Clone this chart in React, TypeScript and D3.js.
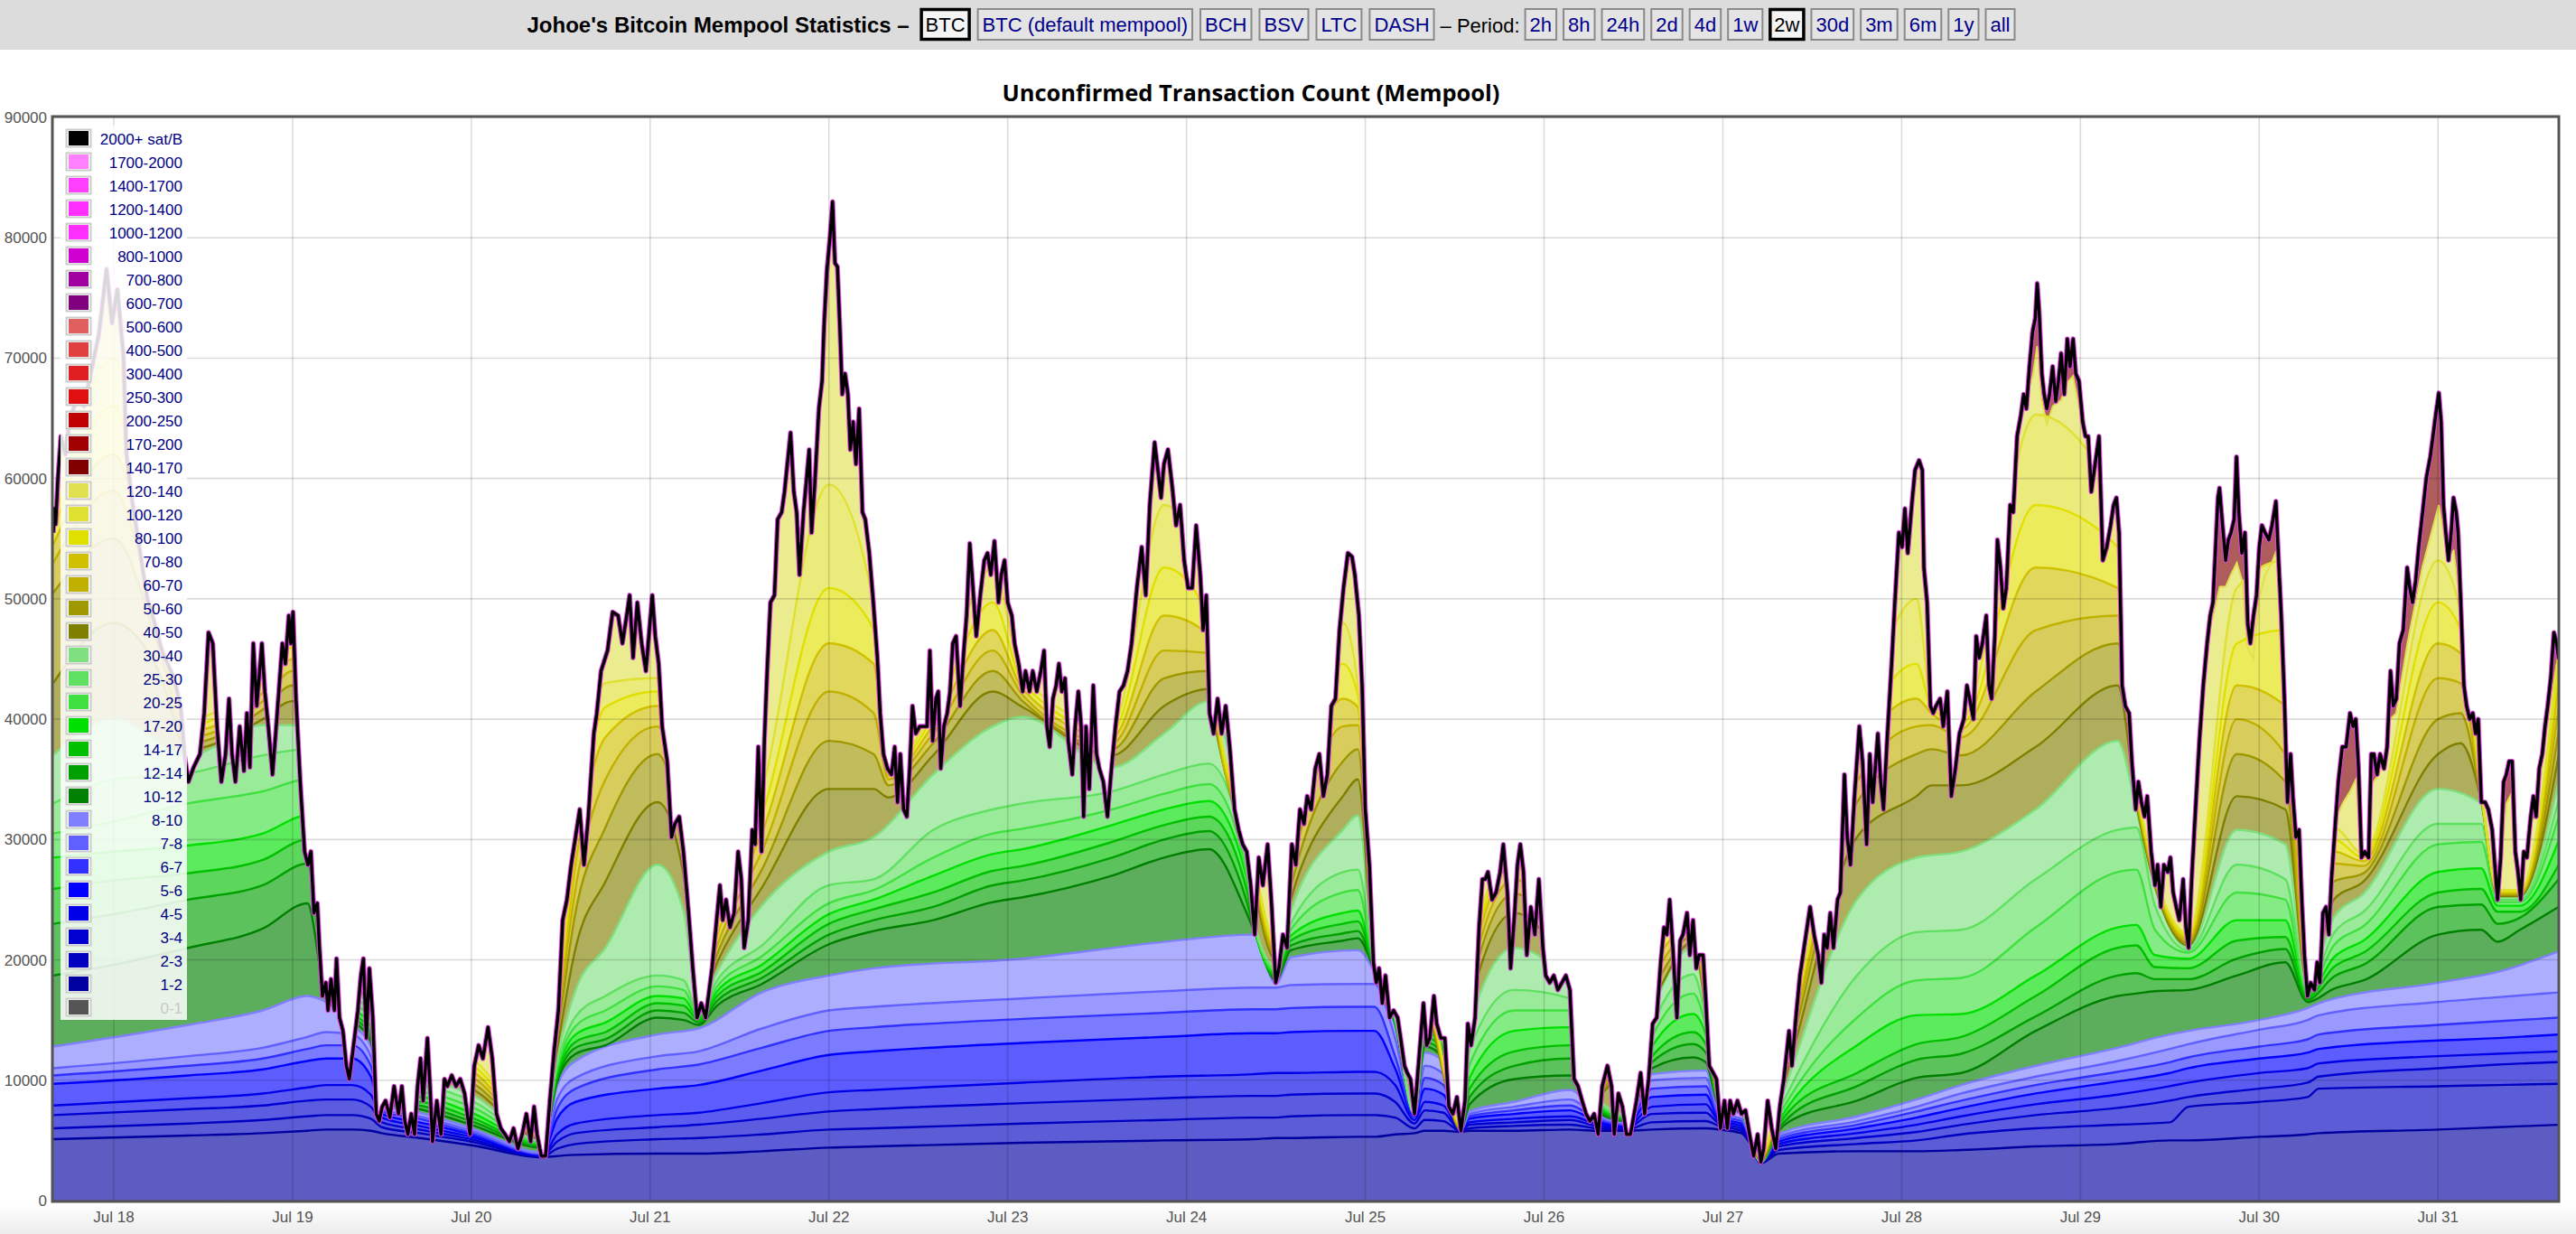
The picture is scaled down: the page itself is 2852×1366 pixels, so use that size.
import React from 'react';
import * as d3 from 'd3';

// hours since Jul 17 00:00 (UTC)
const T0 = Date.UTC(2019, 6, 17);
const toDate = (h: number) => new Date(T0 + h * 3600000);

const legendLabels = ['2000+ sat/B','1700-2000','1400-1700','1200-1400','1000-1200','800-1000','700-800','600-700','500-600','400-500','300-400','250-300','200-250','170-200','140-170','120-140','100-120','80-100','70-80','60-70','50-60','40-50','30-40','25-30','20-25','17-20','14-17','12-14','10-12','8-10','7-8','6-7','5-6','4-5','3-4','2-3','1-2','0-1'];
const seriesColors = ['#000000','#ff80ff','#ff40ff','#ff30ff','#ff30ff','#d000d0','#a000a0','#800080','#e06060','#e04040','#e02020','#e01010','#c00000','#a00000','#800000','#e0e050','#e0e030','#e0e000','#d0c000','#c0b000','#a09800','#808000','#80e080','#60e060','#40e040','#00e000','#00c000','#00a000','#008000','#8080ff','#6060ff','#3030ff','#0000ff','#0000e8','#0000d0','#0000c0','#0000a0','#555555'];
const hiddenLabels = ['0-1'];

const yTickValues = [0, 10000, 20000, 30000, 40000, 50000, 60000, 70000, 80000, 90000];
const xTickLabels = ['Jul 18','Jul 19','Jul 20','Jul 21','Jul 22','Jul 23','Jul 24','Jul 25','Jul 26','Jul 27','Jul 28','Jul 29','Jul 30','Jul 31'];
const xTickHours = [24,48,72,96,120,144,168,192,216,240,264,288,312,336];

const coinButtons = ['BTC','BTC (default mempool)','BCH','BSV','LTC','DASH'];
const periodButtons = ['2h','8h','24h','2d','4d','1w','2w','30d','3m','6m','1y','all'];
const selectedButtons = ['BTC','2w'];

// total mempool size (thousands of tx) : [hour, value]
const totalSeries = [
[15.88,55.5],[16.0,57.5],[16.2,56.2],[16.5,60.0],[16.9,63.5],[17.5,62.0],[18.1,65.0],[19.0,66.5],[20.0,66.0],[21.0,69.0],[22.0,72.0],[23.03,77.4],[23.76,72.9],[24.49,75.7],[25.3,70.2],[25.7,62.0],[26.5,58.0],[27.5,54.0],[28.5,50.0],[29.3,48.4],[30.5,45.6],[32.1,43.4],[33.0,40.9],[33.5,37.0],
[34.03,34.8],[34.71,36.0],[35.57,37.1],[36.14,40.5],[36.72,47.2],[37.29,46.3],[37.86,39.4],[38.44,34.8],[39.01,37.1],[39.47,41.7],[39.87,37.1],[40.33,34.8],[40.90,39.4],[41.47,35.7],[41.87,40.5],[42.27,36.0],[42.73,46.3],[43.19,41.1],[43.88,46.3],[44.28,42.3],[44.74,39.4],[45.31,35.4],[45.88,40.0],[46.63,46.3],[47.03,44.6],[47.49,48.6],[47.77,46.3],[48.06,48.9],[48.46,41.7],[49.03,34.8],[49.61,29.0],[50.06,27.9],[50.46,29.0],[50.87,23.9],[51.32,24.7],[51.61,21.0],[52.01,17.0],[52.47,18.1],[52.76,15.8],[53.16,18.4],[53.61,15.8],[53.90,20.1],[54.30,15.2],[54.76,14.1],[55.22,11.2],[55.62,10.1],[56.19,12.9],[56.77,15.8],[57.17,18.7],[57.51,20.1],[57.91,13.5],[58.31,19.3],[58.77,15.2],[59.23,7.2],[59.63,6.6],[60.03,7.8],[60.49,8.3],[61.06,6.9],[61.63,9.5],[62.21,7.2],[62.67,9.5],[63.07,6.6],[63.47,5.5],[63.93,7.2],[64.38,5.5],[64.78,9.5],[65.18,11.8],[65.53,8.3],[66.10,13.5],[66.45,9.5],[66.79,4.9],[67.36,8.3],[67.93,5.5],[68.39,10.1],[68.79,9.5],[69.37,10.4],[69.94,9.5],[70.51,10.1],[71.09,8.9],[71.83,5.5],[72.40,11.2],[72.98,12.9],[73.55,11.8],[74.24,14.4],[74.81,11.8],[75.38,7.2],[75.95,6.0],[76.53,5.5],[77.10,4.9],[77.67,6.0],[78.25,4.3],[78.82,5.5],[79.39,7.2],[79.96,4.9],[80.42,7.8],[80.82,5.5],[81.39,3.7],[81.97,3.7],[82.54,8.3],[83.11,12.4],[83.69,15.8],[84.26,23.3],[84.83,25.0],[85.40,27.9],[85.98,30.2],[86.55,32.5],[87.12,27.9],[87.70,31.9],[88.44,38.8],[88.84,40.5],[89.41,44.0],[90.28,45.7],[90.96,48.9],[91.71,48.6],[92.28,46.3],[92.85,48.6],[93.25,50.3],[93.71,45.1],[94.28,49.7],[94.86,46.3],[95.43,44.0],[95.89,47.4],[96.29,50.3],[96.69,46.9],[97.15,44.6],[97.61,39.4],[98.29,36.5],[98.87,30.2],[99.32,31.3],[99.90,31.9],[100.47,29.0],[101.16,23.9],[101.73,19.3],[102.30,15.2],[102.87,16.4],[103.45,15.2],[104.31,19.3],
[105.37,26.2],[105.75,23.3],[106.19,25.0],[106.73,22.7],[107.27,23.9],[107.81,29.0],[108.24,26.7],[108.62,21.0],[109.17,23.3],[109.71,30.8],[110.09,29.6],[110.52,37.7],[110.95,29.0],[111.33,38.2],[111.71,44.0],[112.15,49.7],[112.69,50.3],[113.12,56.6],[113.66,57.2],[114.04,58.9],[114.42,61.2],[114.85,63.8],[115.29,58.9],[115.67,57.2],[116.05,52.0],[116.59,57.2],[117.02,60.1],[117.35,62.4],[117.67,55.5],[118.10,59.5],[118.65,65.8],[119.08,68.1],[119.35,72.7],[119.73,77.3],[120.16,80.2],[120.49,83.0],[120.81,77.9],[121.14,77.6],[121.46,72.7],[121.79,67.0],[122.17,68.7],[122.55,67.0],[122.87,62.4],[123.25,64.7],[123.63,61.2],[124.06,65.8],[124.50,57.2],[124.88,56.6],[125.42,53.8],[125.96,49.7],[126.50,45.1],[126.88,40.5],[127.32,37.1],[127.86,35.9],[128.40,35.4],[128.83,37.7],[129.21,33.1],[129.59,37.1],[130.02,32.5],[130.46,31.9],[130.84,35.9],[131.22,41.1],[131.65,38.8],[132.19,39.4],[132.73,39.4],[133.17,39.4],[133.55,45.7],[133.93,38.2],[134.36,41.7],[134.68,42.3],[135.01,35.9],[135.44,39.4],[135.88,40.5],[136.26,42.3],[136.63,46.3],[137.07,46.9],[137.61,41.1],[138.04,45.1],[138.48,48.6],[138.91,54.6],[139.34,50.9],[139.78,46.9],[140.32,50.3],[140.86,53.2],[141.29,53.8],[141.73,52.0],[142.22,54.8],[142.76,49.7],[143.14,52.0],[143.57,53.2],[144.00,49.7],[144.55,48.6],[144.92,46.3],[145.47,44.6],[146.01,42.3],[146.39,44.0],[146.93,42.3],[147.36,44.0],[147.90,42.3],[148.45,44.0],[148.88,45.7],[149.26,39.4],[149.64,37.7],[150.07,41.7],[150.50,42.8],[150.88,44.6],[151.26,42.3],[151.70,43.4],[152.13,38.2],[152.67,35.4],[153.05,39.4],[153.48,42.3],[153.86,39.4],[154.19,31.9],[154.51,39.4],[154.95,34.2],[155.49,42.8],[155.92,37.1],[156.30,35.9],[156.84,34.8],[157.39,31.9],[157.93,35.9],[158.47,39.4],[159.01,42.3],[159.55,42.8],[160.09,44.0],[160.63,46.3],[161.34,50.9],[161.99,54.3],[162.53,50.3],[163.07,57.8],[163.72,63.0],[164.16,60.7],[164.59,58.4],[164.97,61.2],[165.51,62.4],[166.05,59.5],[166.60,56.1],[167.14,57.8],[167.68,53.2],[168.22,50.9],[168.76,50.9],[169.30,56.1],[169.85,52.0],[170.23,47.4],[170.66,50.3],[171.09,40.5],[171.64,38.8],[172.18,41.7],[172.72,38.8],[173.26,41.1],[173.80,37.7],[174.45,32.5],[175.00,30.8],[175.54,29.6],[176.08,29.0],[176.62,26.2],[177.16,22.1],[177.70,28.5],[178.25,26.2],[178.89,29.6],[179.44,24.4],[179.98,18.1],[180.41,19.3],[180.95,22.1],[181.50,21.0],[182.14,29.6],[182.68,27.9],[183.23,32.5],[183.77,31.3],[184.20,33.6],[184.74,32.5],[185.29,35.9],[185.83,37.1],[186.37,33.6],[186.91,35.4],[187.45,41.1],[188.00,41.7],[188.54,47.4],[189.08,50.9],
[189.67,53.8],[190.22,53.5],[190.60,52.0],[191.14,48.6],[191.57,42.8],[192.00,32.5],[192.55,27.9],[193.09,19.8],[193.47,18.1],[193.85,19.3],[194.28,16.4],[194.71,18.7],[195.26,15.2],[195.80,15.8],[196.34,15.2],[196.88,12.9],[197.26,11.2],[197.64,10.6],[198.07,10.1],[198.61,7.2],[199.05,10.6],[199.43,13.5],[199.81,16.4],[200.24,12.9],[200.67,13.5],[201.21,17.0],[201.59,14.7],[202.14,13.5],[202.68,13.5],[203.22,7.8],[203.76,7.2],[204.30,8.6],[204.84,5.8],[205.39,8.3],[205.77,14.7],[206.20,12.9],[206.74,15.2],[207.28,22.7],[207.72,26.7],[208.10,26.7],[208.47,27.3],[209.02,25.0],[209.56,25.6],[210.10,27.3],[210.53,29.6],[211.08,25.6],[211.51,19.3],[212.05,23.9],[212.43,27.9],[212.81,29.6],[213.24,27.3],[213.68,20.4],[214.22,24.4],[214.76,22.1],[215.30,26.7],[215.84,21.0],[216.22,18.7],[216.76,18.1],[217.31,18.7],[217.85,17.5],[218.39,18.1],[218.93,18.7],[219.47,17.5],[220.02,10.1],[220.56,9.5],[221.10,8.3],[221.64,7.2],[222.18,6.6],[222.72,7.2],[223.27,5.5],[223.81,9.5],[224.51,11.2],[225.05,9.5],[225.43,5.5],[225.98,8.9],[226.52,7.8],[227.06,5.5],[227.60,5.5],[228.41,8.3],[228.96,10.6],[229.50,7.2],[230.04,10.1],[230.58,14.7],[231.12,15.2],[231.66,19.8],[232.10,22.7],[232.48,22.1],[232.86,25.0],[233.29,21.0],[233.83,15.2],[234.27,21.6],[234.65,22.1],[235.19,23.9],[235.56,20.4],[236.00,23.3],[236.43,19.3],[236.81,20.4],[237.35,20.4],[237.73,16.4],[238.17,11.2],[238.71,10.6],[239.14,10.1],[239.68,6.0],[240.22,8.3],[240.60,6.0],[240.98,8.3],[241.42,7.2],[241.96,8.3],[242.50,7.2],[243.04,7.5],[243.58,5.5],[244.13,3.7],[244.67,5.5],[245.10,3.2],[245.48,4.3],[246.02,8.3],[246.56,6.0],[247.11,4.3],[247.65,7.8],[248.19,10.1],[248.89,14.1],[249.27,11.2],[249.81,15.2],[250.35,18.7],[250.90,21.0],[251.71,24.4],[252.25,22.1],[252.79,20.4],[253.23,18.1],[253.61,22.1],[253.99,21.0],[254.42,23.9],[254.85,21.0],[255.40,25.0],[255.78,25.6],[256.32,35.4],[256.70,30.2],[257.13,27.9],[257.67,33.6],[258.32,39.4],[258.75,36.5],[259.30,29.6],[259.73,37.1],[260.11,33.1],[260.81,38.8],[261.19,34.8],[261.57,32.5],[262.00,37.7],[262.65,44.6],[263.09,49.7],[263.63,55.5],[264.06,54.3],[264.44,57.5],[264.82,53.8],[265.36,57.8],[265.80,60.7],[266.34,61.5],[266.77,60.7],[266.99,52.6],[267.42,49.7],[267.86,41.1],[268.24,40.5],[268.62,41.1],[269.16,41.7],[269.59,39.4],[270.13,42.3],[270.67,33.6],[271.22,35.9],[271.76,38.8],
[272.35,40.0],[272.76,42.8],[273.13,41.7],[273.64,40.0],[274.01,46.9],[274.42,45.1],[274.84,46.3],[275.36,48.6],[275.72,42.8],[276.08,41.7],[276.50,46.9],[276.86,54.9],[277.27,52.6],[277.64,49.2],[278.05,50.9],[278.57,57.8],[278.98,57.2],[279.50,63.5],[280.02,65.3],[280.38,67.0],[280.75,65.8],[281.16,69.3],[281.58,72.2],[281.94,73.3],[282.20,76.2],[282.46,73.9],[282.82,68.7],[283.13,67.0],[283.49,65.8],[283.86,67.0],[284.27,69.3],[284.69,66.4],[285.05,68.1],[285.41,70.4],[285.83,67.0],[286.24,71.6],[286.60,69.3],[287.02,71.6],[287.38,68.7],[287.80,68.1],[288.31,64.7],[288.68,63.5],[289.04,63.5],[289.46,58.9],[289.97,61.2],[290.49,63.5],[291.01,53.2],[291.53,54.3],[292.05,56.1],[292.46,57.8],[292.83,58.4],[293.19,55.5],[293.60,42.8],[294.02,41.1],[294.54,40.5],[294.90,36.5],[295.42,32.5],[295.78,34.8],[296.19,33.1],[296.61,31.9],[296.97,33.6],[297.49,29.0],[298.01,26.2],[298.37,27.9],[298.79,24.4],[299.20,27.9],[299.72,27.3],[300.08,28.5],[300.45,25.6],[300.86,24.4],[301.28,23.3],[301.79,26.7],[302.16,22.7],[302.52,21.0],[302.93,26.7],[303.45,32.5],[303.97,38.2],[304.49,42.8],[305.01,46.3],[305.42,48.6],[305.79,49.7],[306.15,54.3],[306.46,58.4],[306.67,59.2],[307.08,56.1],[307.50,53.2],[307.86,54.9],[308.22,55.5],[308.64,56.6],[308.95,61.8],[309.26,57.2],[309.67,53.8],[310.09,55.5],[310.45,48.0],[310.81,46.3],[311.23,48.6],[311.64,50.3],[312.01,54.3],[312.37,56.1],[312.78,55.5],[313.30,54.9],[313.72,56.1],[314.24,58.1],[314.60,53.2],[314.96,48.6],[315.38,41.7],[315.79,33.1],[316.21,37.1],[316.52,33.6],[316.93,30.2],[317.35,30.8],[317.71,25.0],[318.07,20.4],[318.49,17.0],[318.90,18.1],[319.42,17.5],[319.78,19.8],[320.14,18.1],[320.56,23.9],[320.97,24.4],[321.34,22.1],[321.70,26.7],[322.22,31.3],[322.63,34.8],[323.15,37.7],[323.67,37.7],[324.19,40.5],[324.60,39.4],[324.96,40.0],[325.33,35.9],[325.74,28.5],[326.16,29.0],[326.68,28.5],[327.04,37.1],[327.40,37.1],[327.82,35.4],[328.23,37.1],[328.75,35.9],[329.17,37.7],[329.63,44.0],[330.00,41.1],[330.41,41.7],[330.83,46.3],[331.34,47.4],[331.86,52.6],[332.22,50.9],[332.59,49.7],[333.00,51.5],[333.42,54.3],[333.94,57.2],[334.45,60.1],[334.97,61.8],[335.33,63.5],[335.70,65.3],[336.11,67.1],[336.42,64.7],[336.73,57.8],[337.05,55.5],[337.41,53.2],[337.77,55.5],[338.08,58.4],[338.45,57.2],[338.70,55.5],[339.12,48.6],[339.48,42.8],[339.84,41.1],[340.26,40.0],[340.67,40.5],[341.04,38.8],[341.40,40.0],[341.81,33.1],[342.33,33.1],[342.75,32.5],[343.27,30.8],[343.63,27.9],[343.99,25.0],[344.41,28.5],[344.82,34.8],[345.18,35.4],[345.55,36.5],[345.96,36.5],[346.38,29.0],[346.74,27.3],[347.10,25.0],[347.52,29.0],[347.93,28.5],[348.45,31.9],[348.81,33.6],[349.17,31.9],[349.59,35.9],[350.00,37.1],[350.37,39.4],[350.73,41.1],[351.14,43.4],[351.56,47.2],[351.92,46.3],[352.2,45.0]
];

// cumulative tops (thousands): [hour, 1-2, 2-3, 3-4, 4-5, 5-6, 6-7, 7-8, 8-10]
const blueLevels = [
[15.88,5.1,6.0,7.1,7.9,9.7,10.4,11.0,12.8],[34,5.4,6.4,7.6,8.5,10.4,11.2,12.0,14.6],[44,5.6,6.7,7.9,8.9,10.9,11.8,12.7,15.8],[50,5.8,7.0,8.3,9.4,11.6,12.6,13.6,17.0],[52.5,5.9,7.1,8.4,9.6,11.8,12.9,14.0,16.5],[56,5.9,7.1,8.4,9.6,11.8,12.9,13.8,14.6],[58.5,5.8,6.8,7.8,8.8,10.3,11.2,12.0,12.8],[60,5.6,6.1,6.5,6.9,7.2,7.4,7.6,7.9],[65,5.2,5.6,5.9,6.2,6.5,6.8,7.0,7.3],[72,4.6,4.9,5.1,5.3,5.5,5.6,5.8,6.0],[81.5,3.6,3.65,3.7,3.75,3.8,3.85,3.9,4.0],[83.5,3.7,4.3,4.9,5.5,6.8,7.6,8.4,9.5],[86,3.8,4.7,5.6,6.4,8.2,9.3,10.2,11.6],[97,3.9,5.1,6.1,7.1,9.3,10.9,12.0,13.8],[102.5,3.9,5.2,6.3,7.3,9.6,11.3,12.4,14.3],[111,4.1,5.5,6.8,8.1,10.8,12.7,14.3,17.3],[120,4.4,5.9,7.4,9.0,12.1,14.1,15.8,18.7],[126,4.5,6.0,7.6,9.2,12.4,14.4,16.1,19.3],[146,4.8,6.4,8.1,9.8,13.1,15.1,16.8,20.1],[165,5.0,6.7,8.5,10.3,13.6,15.6,17.4,21.5],[177,5.1,6.9,8.7,10.5,13.9,15.9,17.7,22.1],[180,5.2,6.9,8.7,10.6,13.9,15.9,17.7,18.0],[182,5.2,7.0,8.8,10.6,14.0,16.0,17.9,20.2],[191,5.3,7.1,8.9,10.7,14.1,16.1,18.0,20.8],[193.2,5.3,7.1,8.9,10.7,14.1,16.1,18.0,19.0],[196,5.5,6.9,8.2,9.6,11.0,12.0,13.5,14.5],[198.6,5.6,6.0,6.4,6.7,7.0,7.1,7.2,7.2],[200,5.8,6.7,7.5,8.2,9.3,10.2,11.2,12.3],[202.5,5.8,6.6,7.3,7.9,8.8,9.6,10.5,11.5],[204.8,5.7,5.75,5.8,5.8,5.8,5.8,5.8,5.8],[206,5.8,6.0,6.3,6.5,6.8,7.0,7.2,7.4],[212,5.8,6.2,6.5,6.8,7.2,7.5,7.8,8.2],[219.5,5.9,6.3,6.7,7.0,7.5,7.9,8.4,9.2],[223,5.8,6.0,6.2,6.4,6.6,6.8,7.0,7.2],[227,5.8,5.9,6.0,6.1,6.2,6.3,6.4,6.5],[230.5,5.9,6.5,7.2,7.8,8.6,9.3,10.0,10.5],[237.7,6.0,6.6,7.3,8.0,8.8,9.5,10.2,10.8],[239.5,5.9,6.2,6.4,6.6,6.8,7.0,7.2,7.6],[242.5,5.6,5.8,6.0,6.2,6.4,6.6,6.8,7.2],[243.5,4.9,5.0,5.1,5.2,5.3,5.4,5.45,5.5],[245.1,3.1,3.15,3.2,3.2,3.2,3.2,3.2,3.2],[247.5,3.9,4.2,4.5,4.7,4.9,5.1,5.3,5.5],[258,4.1,4.7,5.2,5.6,6.0,6.3,6.6,7.0],[266,4.1,5.0,5.7,6.3,6.9,7.4,7.8,8.4],[272,4.2,5.5,6.3,7.0,7.7,8.3,8.9,9.6],[282,4.5,6.0,7.1,8.0,8.9,9.6,10.3,11.2],[293,4.7,6.3,7.7,8.8,9.9,10.7,11.6,12.7],[300,5.0,6.5,8.3,9.5,10.6,11.5,12.6,13.8],[302.5,5.0,7.8,8.6,9.8,11.0,11.9,13.0,14.1],[312,5.3,8.2,9.3,10.6,11.8,12.8,14.2,15.0],[318.5,5.5,8.6,9.8,11.0,12.3,13.4,15.0,16.0],[320,5.6,9.3,10.3,11.4,12.6,13.8,15.4,16.4],[336,5.9,9.5,11.0,12.0,13.3,14.6,16.5,18.1],[344,6.1,9.6,11.3,12.2,13.5,14.9,16.9,19.0],[352.2,6.3,9.7,11.5,12.4,13.8,15.2,17.3,20.7]
];

// cumulative tops (thousands): [hour, 10-12, 12-14, 14-17, 17-20, 20-25, 25-30, 30-40]
const greenLevels = [
[15.88,18.7,23.0,25.9,28.5,30.5,33.0,37.0],[24,19.6,23.8,26.6,29.0,31.5,35.0,40.0],[34,21.0,25.0,27.2,29.5,33.0,35.5,37.0],[44,22.6,26.2,28.3,30.5,34.0,37.0,39.5],[50,24.7,28.0,30.0,32.0,35.0,37.5,39.5],[52.5,16.8,17.1,17.4,17.7,18.0,18.3,18.6],[56,15.0,15.3,15.6,16.0,16.5,17.0,17.5],[58.5,13.2,13.6,14.0,14.5,15.0,15.5,16.0],[60,8.1,8.2,8.3,8.4,8.5,8.6,8.7],[65,7.6,7.9,8.2,8.6,9.0,9.5,10.0],[72,6.3,6.6,6.9,7.3,7.8,8.3,8.8],[81.5,4.4,4.5,4.6,4.7,4.8,4.9,5.0],[83.5,9.8,10.1,10.4,10.7,11.0,11.3,11.8],[86,12.2,12.7,13.2,13.8,14.5,15.3,17.5],[90,12.9,13.4,14.0,14.8,15.8,17.0,21.0],[97,15.2,15.8,16.4,17.0,17.8,18.7,27.9],[100.5,15.0,15.6,16.2,16.8,17.5,18.3,24.0],[102.5,14.6,14.8,15.0,15.2,15.4,15.6,15.8],[105,16.2,16.6,17.0,17.4,17.8,18.3,19.0],[111,18.0,18.5,19.0,19.6,20.3,21.2,24.5],[120,21.3,22.1,23.0,23.8,24.7,26.2,29.0],[126,22.4,23.3,24.2,25.0,25.8,26.7,30.2],[134,23.3,24.4,25.6,27.0,28.5,30.8,35.4],[142,24.8,26.2,27.4,28.8,30.5,32.5,39.4],[146,25.2,26.6,27.8,29.2,30.9,33.0,40.2],[158,27.0,28.5,29.8,31.2,32.5,34.0,36.0],[165,28.5,30.0,31.2,32.5,33.8,35.4,38.8],[171,29.2,30.7,31.9,33.2,34.6,36.3,41.5],[176,24.0,25.0,26.0,27.0,27.5,28.0,28.5],[177.2,22.2,22.3,22.4,22.5,22.6,22.7,22.8],[180,18.3,18.5,18.7,18.9,19.1,19.3,19.5],[182,20.8,21.2,21.6,22.0,22.5,23.0,24.0],[189,21.6,22.2,23.0,23.9,25.6,27.3,30.8],[191,21.8,22.4,23.2,24.1,25.8,27.5,32.0],[193.2,19.2,19.3,19.4,19.5,19.6,19.7,19.8],[196,14.7,14.8,14.9,15.0,15.1,15.2,15.3],[198.6,7.2,7.2,7.2,7.2,7.2,7.2,7.2],[200,12.8,13.2,13.6,14.0,14.4,14.8,15.2],[202.5,11.8,12.1,12.4,12.7,13.0,13.2,13.4],[204.8,5.8,5.8,5.8,5.8,5.8,5.8,5.8],[206,8.0,8.6,9.3,10.2,11.3,12.5,14.5],[212,10.1,11.2,12.4,14.1,15.8,17.5,21.0],[219.5,10.4,11.8,12.9,14.4,15.8,16.8,17.6],[223,7.4,7.6,7.8,8.0,8.2,8.4,8.6],[227,6.6,6.7,6.8,6.9,7.0,7.1,7.2],[230.5,11.0,11.5,12.0,12.8,13.6,14.4,15.5],[236,11.9,13.0,14.0,15.5,17.2,18.8,21.0],[237.7,11.5,12.3,13.0,13.8,14.5,15.2,16.0],[239.5,7.8,7.9,8.0,8.1,8.2,8.3,8.4],[242.5,7.3,7.4,7.45,7.5,7.55,7.6,7.65],[243.5,5.55,5.6,5.6,5.6,5.6,5.6,5.6],[245.1,3.2,3.2,3.2,3.2,3.2,3.2,3.2],[247.5,5.8,6.0,6.3,6.6,7.0,7.4,7.8],[249,6.6,7.0,7.5,8.0,8.6,9.3,10.5],[258,8.3,9.5,10.6,12.9,15.2,18.7,25.0],[266,10.2,11.7,13.0,15.4,18.3,22.3,28.5],[272,10.6,12.2,13.6,15.5,18.5,22.5,29.0],[282,14.1,15.3,17.0,18.7,22.7,26.7,32.5],[293,17.0,18.7,21.0,22.7,27.3,30.8,38.2],[295.5,17.2,18.9,21.2,22.9,27.5,31.0,32.5],[298,17.4,18.4,19.4,20.4,22.5,24.5,26.0],[302.5,17.5,18.4,19.3,20.1,20.6,20.8,21.0],[309,18.7,20.1,21.6,23.3,25.6,27.9,30.8],[315.5,19.8,20.9,21.9,23.3,25.0,26.7,29.6],[318.5,16.5,16.7,16.9,17.1,17.3,17.5,17.7],[322,17.6,18.6,19.4,20.2,21.2,22.2,23.5],[326,18.3,19.6,20.6,21.6,22.8,24.0,25.5],[336,22.1,24.4,25.6,27.3,29.6,31.3,34.2],[341.8,22.5,24.6,25.9,27.6,29.8,31.3,33.0],[344,21.5,23.0,24.0,24.5,24.8,25.0,25.2],[347,22.5,23.5,24.0,24.5,24.8,25.0,25.2],[352.2,24.4,26.7,27.9,29.9,31.9,33.3,34.8]
];

// cumulative tops (thousands): [hour, 40-50, 50-60, 60-70, 70-80, 80-100, 100-120]
const yellowLevels = [
[15.88,43.0,50.5,53.0,54.5,55.5,56.0],[24,48,55,59,62,66,70],[30,44,46,47,48,49,50],[34,37.5,38.0,38.5,39.0,39.5,40.0],[44,40.0,40.8,41.5,42.2,43.0,43.8],[48,41.5,42.8,44.0,45.0,46.0,47.0],[50,40.0,40.5,41.0,41.5,42.0,42.5],[52.5,19.0,19.4,19.8,20.2,20.6,21.0],[58.5,16.5,17.0,17.5,18.0,18.5,19.0],[60,8.8,8.9,9.0,9.1,9.2,9.3],[65,10.5,11.0,11.5,12.0,12.5,13.0],[72,9.3,9.8,10.3,10.8,11.3,11.8],[81.5,5.1,5.2,5.3,5.4,5.5,5.6],[83.5,12.5,13.5,14.5,15.0,15.5,16.0],[86,21.0,24.0,26.0,28.0,29.5,31.0],[90,26.5,31.0,35.0,38.5,41.0,43.0],[97,33.1,37.1,39.4,41.1,42.3,43.4],[100.5,27.0,28.0,28.5,28.8,29.0,29.2],[102.5,16.0,16.2,16.4,16.6,16.8,17.0],[105,19.8,20.5,21.2,22.0,22.7,23.5],[111,26.0,27.5,29.0,30.5,32.0,34.0],[120,34.2,38.2,42.3,46.3,50.9,59.5],[126,34.2,37.1,40.5,44.6,47.5,49.5],[128,33.5,34.5,35.0,35.3,35.6,35.8],[134,37.0,38.0,38.8,39.5,40.2,41.0],[142,42.3,44.0,45.7,47.4,49.7,52.6],[146,41.0,41.5,42.0,42.5,43.0,43.5],[158,37.0,37.5,38.0,38.5,39.0,39.5],[165,41.1,43.4,45.7,48.6,52.6,57.8],[171,42.5,44.0,45.5,47.0,48.5,50.3],[172,39.0,39.5,40.0,40.3,40.6,41.0],[176,29.0,29.5,30.0,30.5,31.0,31.5],[180,20.0,20.3,20.6,20.9,21.2,21.5],[182,25.0,26.0,27.0,28.0,28.5,29.0],[189,33.6,36.5,39.4,41.7,44.6,48.0],[191,35.0,37.5,39.5,41.0,42.0,42.8],[193.2,20.0,20.2,20.4,20.6,20.8,21.0],[196,15.5,15.7,15.9,16.1,16.3,16.5],[200,15.5,15.8,16.1,16.4,16.7,17.0],[204.8,5.9,6.0,6.1,6.2,6.3,6.4],[206,16.0,17.0,17.8,18.5,19.2,20.0],[212,23.9,25.5,26.7,27.9,28.5,29.0],[219.5,17.8,18.0,18.2,18.4,18.6,18.8],[223,8.8,9.0,9.2,9.4,9.6,9.8],[230.5,16.5,17.5,18.5,19.5,20.5,21.5],[236,21.5,22.0,22.5,23.0,23.5,24.0],[239.5,8.5,8.6,8.7,8.8,8.9,9.0],[242.5,7.7,7.75,7.8,7.85,7.9,8.0],[245.1,3.3,3.4,3.5,3.6,3.7,3.8],[249,11.5,12.3,13.0,13.5,13.9,14.2],[258,30.2,33.1,34.8,36.5,37.3,38.2],[266,33.6,37.1,39.4,41.7,44.6,50.0],[268,34.5,37.5,39.5,40.5,41.0,41.3],[272,34.5,37.0,38.5,39.2,39.6,40.0],[282,37.7,42.3,47.4,52.6,57.8,65.3],[293,42.8,46.3,48.6,50.9,54.3,57.8],[295.5,33.0,33.3,33.6,33.9,34.2,34.5],[302.5,21.2,21.4,21.6,21.8,22.0,22.2],[309,33.6,37.1,40.0,42.8,46.3,50.9],[315.5,32.5,34.8,37.1,41.1,47.4,53.2],[318.5,17.9,18.1,18.3,18.5,18.7,18.9],[322,25.0,26.5,28.0,29.0,30.0,31.0],[326,26.5,27.2,27.8,28.2,28.5,28.8],[336,37.1,40.0,43.4,46.3,49.7,53.2],[339,38.0,40.5,43.0,45.5,47.5,49.0],[341.8,33.2,33.4,33.6,33.8,34.0,34.2],[344,25.3,25.4,25.5,25.6,25.7,25.8],[347,25.3,25.4,25.5,25.6,25.7,25.8],[352.2,37.0,39.0,41.0,43.0,44.5,45.8]
];

// top of 120-140 where the 140-170 band shows (thousands): segments of [hour, value]
const redLevels = [
[[280.8,67],[281.6,68.5],[282.2,71],[282.8,66.5],[283.5,64.5],[284.3,66],[285.4,66.5],[286.3,68],[287.0,68.5],[287.8,66],[288.6,64]],
[[304.8,47],[305.8,48.5],[306.7,51],[307.5,51],[308.2,52],[309.0,53],[309.7,51.5],[310.4,46],[311.2,45],[312.0,50],[312.8,52],[313.7,53],[314.3,54],[315.0,49]],
[[321.3,30],[322.2,31.5],[323.2,33],[324.2,34],[325.0,35],[325.7,28.5],[327.0,34.5],[328.2,35.5],[329.6,40],[330.4,40.5],[331.9,46.3],[333.9,52.6],[336.1,57.8],[337.3,53.5],[338.1,54],[338.7,51],[339.5,45],[340.3,40]],
[[344.4,28.5],[345.2,33],[346.0,34],[346.5,29],[348.4,31.5],[349.2,31.9],[350.4,38.5],[351.2,41.5],[351.9,44.5],[352.2,44.8]]
];

const FONT = "'Liberation Sans', Arial, Helvetica, sans-serif";

function textWidth(s: string, font: string): number {
  try {
    const ctx = document.createElement('canvas').getContext('2d');
    if (!ctx) return s.length * 11;
    ctx.font = font;
    return ctx.measureText(s).width;
  } catch (e) {
    return s.length * 11;
  }
}

export default function App() {
  const PL = 59, PR = 2832, PT = 130, PB = 1329;
  const x = d3.scaleUtc().domain([toDate(15.88), toDate(352.1)]).range([PL, PR]);
  const y = d3.scaleLinear().domain([0, 90]).range([PB, PT]);
  const X = (h: number) => x(toDate(h));
  const fillOf = (c: string) => d3.interpolateRgb('#ffffff', c)(0.64);

  const totalArea = d3.area<number[]>().x(d => X(d[0])).y0(y(0)).y1(d => y(d[1]))(totalSeries as any) || '';
  const totalLine = d3.line<number[]>().x(d => X(d[0])).y(d => y(d[1]))(totalSeries as any) || '';

  const groups = [
    { rows: yellowLevels, series: [21, 20, 19, 18, 17, 16] },
    { rows: greenLevels, series: [28, 27, 26, 25, 24, 23, 22] },
    { rows: blueLevels, series: [36, 35, 34, 33, 32, 31, 30, 29] },
  ];
  const bounds: { area: string; line: string; s: number }[] = [];
  groups.forEach(g => {
    for (let k = g.series.length; k >= 1; k--) {
      const a = d3.area<number[]>().curve(d3.curveMonotoneX).x(r => X(r[0])).y0(y(0)).y1(r => y(r[k]));
      const l = d3.line<number[]>().curve(d3.curveMonotoneX).x(r => X(r[0])).y(r => y(r[k]));
      bounds.push({ area: a(g.rows as any) || '', line: l(g.rows as any) || '', s: g.series[k - 1] });
    }
  });
  const redArea = d3.area<number[]>().x(r => X(r[0])).y0(PT - 5).y1(r => y(r[1]));
  const redLine = d3.line<number[]>().x(r => X(r[0])).y(r => y(r[1]));

  // header layout
  const btnFont = `22px ${FONT}`;
  const headFont = `bold 24px ${FONT}`;
  type Item = { kind: 'text' | 'btn'; label: string; bold?: boolean; w: number; gapAfter: number };
  const items: Item[] = [];
  items.push({ kind: 'text', label: "Johoe's Bitcoin Mempool Statistics –", bold: true, w: textWidth("Johoe's Bitcoin Mempool Statistics –", headFont), gapAfter: 12 });
  coinButtons.forEach((b, i) => items.push({ kind: 'btn', label: b, w: textWidth(b, btnFont) + 12, gapAfter: i === coinButtons.length - 1 ? 6 : 7 }));
  items.push({ kind: 'text', label: '– Period:', w: textWidth('– Period:', btnFont), gapAfter: 5 });
  periodButtons.forEach(b => items.push({ kind: 'btn', label: b, w: textWidth(b, btnFont) + 12, gapAfter: 6 }));
  const totalW = items.reduce((s, it, i) => s + it.w + (i < items.length - 1 ? it.gapAfter : 0), 0);
  let cursor = 1407.5 - totalW / 2;
  const placed = items.map(it => { const p = { ...it, x: cursor }; cursor += it.w + it.gapAfter; return p; });

  const legendTop = 153;
  const legendStep = 26;

  return (
    <svg width={2852} height={1366} style={{ position: 'absolute', left: 0, top: 0, display: 'block' }} xmlns="http://www.w3.org/2000/svg">
      <defs>
        <clipPath id="plotClip"><rect x={PL} y={PT} width={PR - PL} height={PB - PT} /></clipPath>
        <clipPath id="totClip"><path d={totalArea} /></clipPath>
        <linearGradient id="bottomGrad" x1="0" y1="0" x2="0" y2="1">
          <stop offset="0" stopColor="#ffffff" />
          <stop offset="1" stopColor="#ececec" />
        </linearGradient>
      </defs>
      <rect x={0} y={0} width={2852} height={1366} fill="#ffffff" />
      <rect x={0} y={1333} width={2852} height={33} fill="url(#bottomGrad)" />

      {/* header bar */}
      <rect x={0} y={0} width={2852} height={55} fill="#dcdcdc" />
      {placed.map((it, i) => {
        if (it.kind === 'text') {
          return <text key={'h' + i} x={it.x} y={36} fontFamily={FONT} fontSize={it.bold ? 24 : 22} fontWeight={it.bold ? 'bold' : 'normal'} fill="#000">{it.label}</text>;
        }
        const sel = selectedButtons.includes(it.label) && (it.label !== 'BTC' || i === 1);
        return (
          <g key={'b' + i}>
            <rect x={it.x + (sel ? 1.5 : 1)} y={sel ? 10.5 : 10} width={it.w - (sel ? 3 : 2)} height={sel ? 33 : 34} fill={sel ? '#f4f4f4' : '#e4e4e4'} stroke={sel ? '#000' : '#8a8a8a'} strokeWidth={sel ? 3.5 : 2} />
            <text x={it.x + it.w / 2} y={35} textAnchor="middle" fontFamily={FONT} fontSize={22} fill={sel ? '#000' : '#00008b'}>{it.label}</text>
          </g>
        );
      })}

      {/* title */}
      <text x={1385} y={112} textAnchor="middle" fontFamily="'Open Sans', sans-serif" fontWeight="bold" fontSize={25} textLength={551} lengthAdjust="spacingAndGlyphs" fill="#000">Unconfirmed Transaction Count (Mempool)</text>

      {/* stacked bands */}
      <g clipPath="url(#plotClip)">
        <g clipPath="url(#totClip)">
          <rect x={PL} y={PT} width={PR - PL} height={PB - PT} fill={fillOf(seriesColors[15])} />
          {redLevels.map((seg, i) => <path key={'ra' + i} d={redArea(seg as any) || ''} fill={fillOf(seriesColors[14])} />)}
          {bounds.map((b, i) => <path key={'ba' + i} d={b.area} fill={fillOf(seriesColors[b.s])} />)}
          {redLevels.map((seg, i) => <path key={'rl' + i} d={redLine(seg as any) || ''} fill="none" stroke={seriesColors[15]} strokeWidth={2} />)}
          {bounds.slice().reverse().map((b, i) => <path key={'bl' + i} d={b.line} fill="none" stroke={seriesColors[b.s]} strokeWidth={2.4} strokeLinejoin="round" />)}
        </g>
        <path d={totalLine} fill="none" stroke="#e040e0" strokeWidth={5.5} strokeLinejoin="round" />
        <path d={totalLine} fill="none" stroke="#000" strokeWidth={3.4} strokeLinejoin="round" />
        {/* grid */}
        {yTickValues.map(v => <line key={'gy' + v} x1={PL} x2={PR} y1={y(v / 1000)} y2={y(v / 1000)} stroke="rgba(0,0,0,0.14)" strokeWidth={1.6} />)}
        {xTickHours.map(h => <line key={'gx' + h} x1={X(h)} x2={X(h)} y1={PT} y2={PB} stroke="rgba(0,0,0,0.14)" strokeWidth={1.6} />)}
      </g>

      {/* plot border */}
      <rect x={PL - 1} y={PT - 1} width={PR - PL + 2} height={PB - PT + 2} fill="none" stroke="#545454" strokeWidth={3} />

      {/* axes labels */}
      {yTickValues.map(v => <text key={'ty' + v} x={52} y={y(v / 1000) + 6} textAnchor="end" fontFamily={FONT} fontSize={17} fill="#545454">{v}</text>)}
      {xTickHours.map((h, i) => <text key={'tx' + h} x={X(h)} y={1353} textAnchor="middle" fontFamily={FONT} fontSize={17} fill="#545454">{xTickLabels[i]}</text>)}

      {/* legend */}
      <rect x={67} y={139} width={140} height={990} fill="#ffffff" opacity={0.85} />
      {legendLabels.map((lab, i) => {
        const cy = legendTop + i * legendStep;
        const hidden = hiddenLabels.includes(lab);
        return (
          <g key={'lg' + i}>
            <rect x={73.5} y={cy - 9.5} width={27} height={19} fill="#ffffff" stroke="#cccccc" strokeWidth={2} />
            <rect x={76} y={cy - 8} width={22} height={16} fill={seriesColors[i]} />
            <text x={202} y={cy + 6.5} textAnchor="end" fontFamily={FONT} fontSize={17} fill={hidden ? '#c8c8c8' : '#000080'}>{lab}</text>
          </g>
        );
      })}
    </svg>
  );
}
